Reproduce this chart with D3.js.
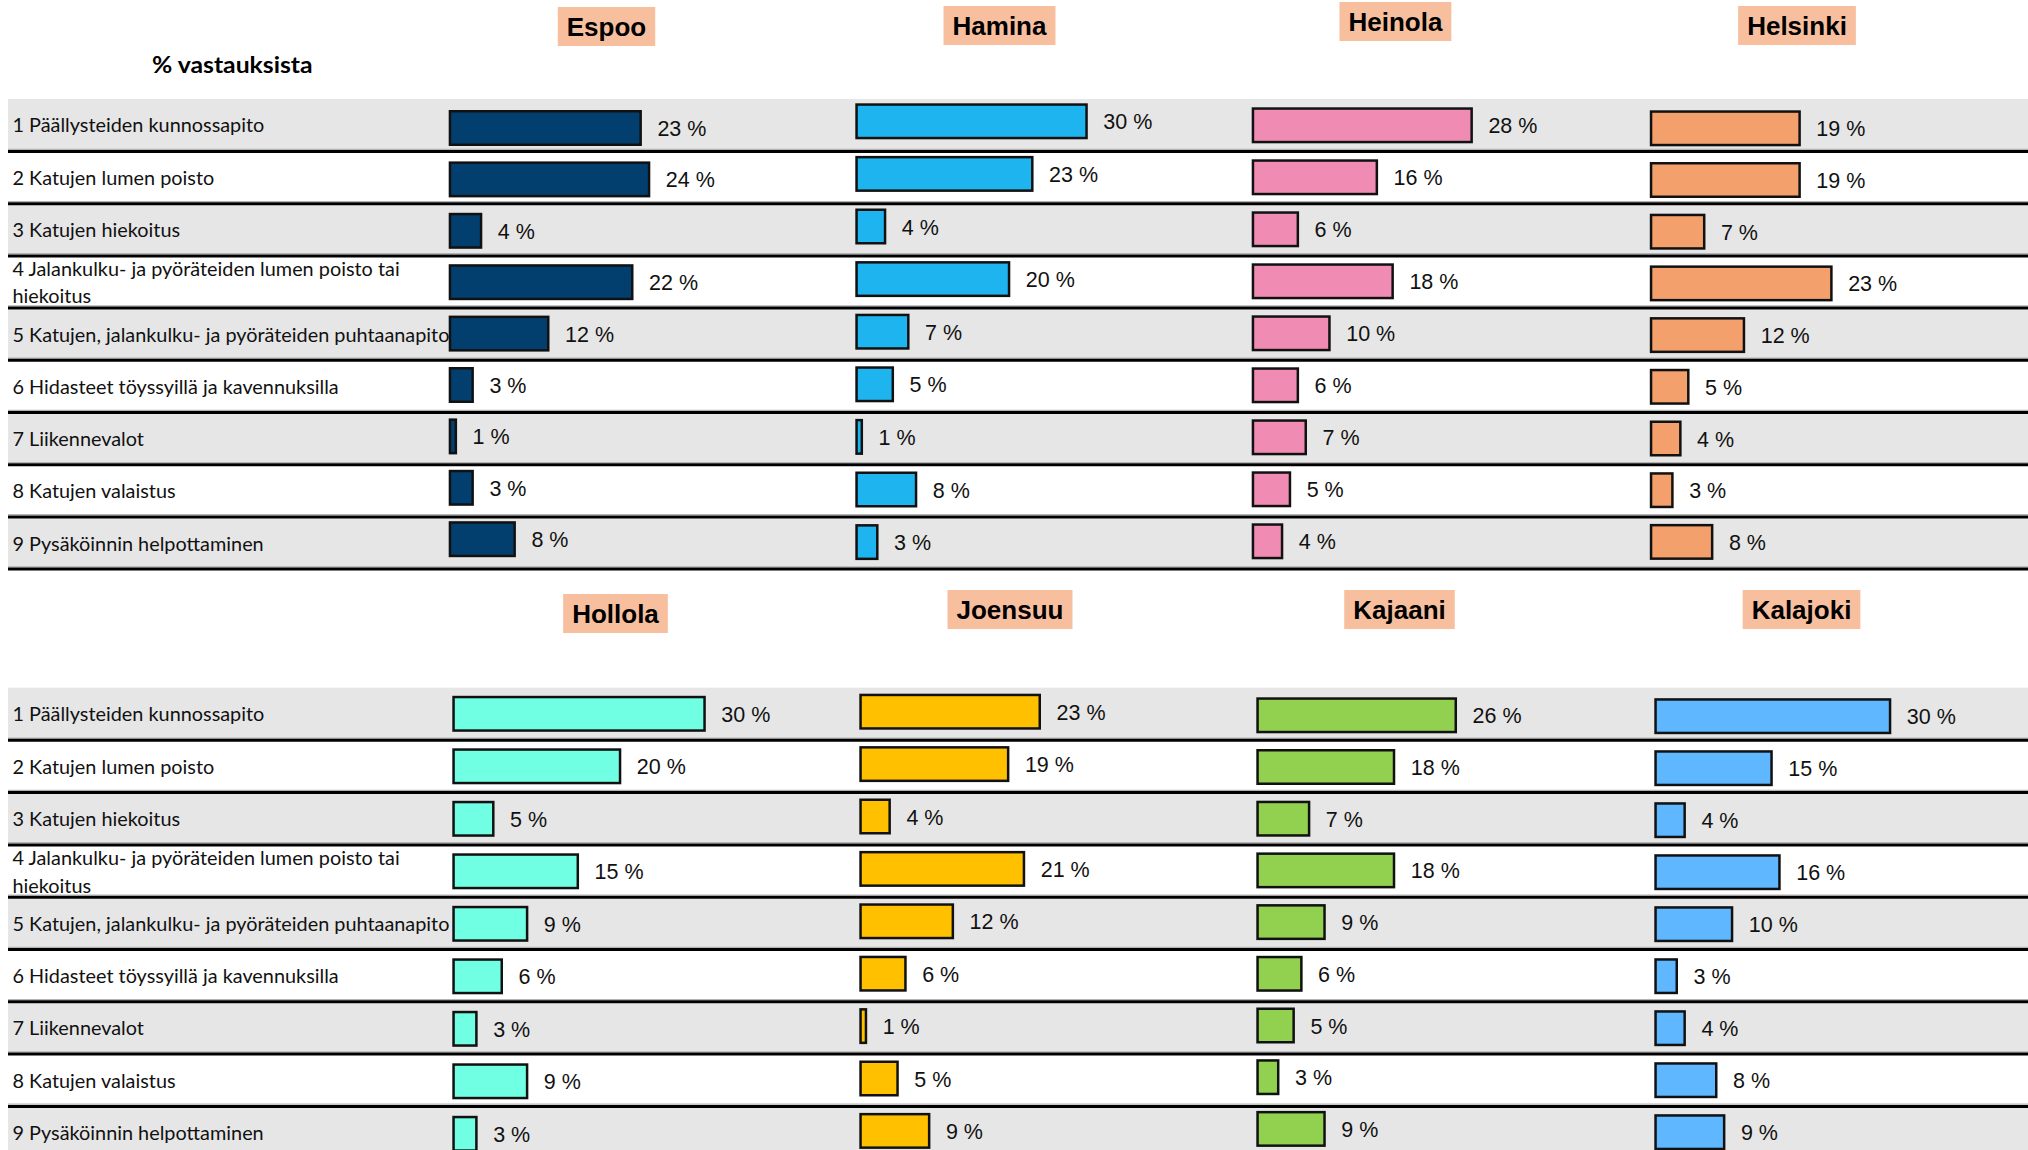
<!DOCTYPE html>
<html>
<head>
<meta charset="utf-8">
<script src="https://cdn.jsdelivr.net/npm/d3@7"></script>
<style>
  html, body { margin: 0; padding: 0; background: #fff; }
  svg { display: block; }
</style>
</head>
<body>
<svg id="chart" width="2028" height="1150"></svg>
<script>
// ---- data -------------------------------------------------------------
const categories = [
  "1 Päällysteiden kunnossapito",
  "2 Katujen lumen poisto",
  "3 Katujen hiekoitus",
  "4 Jalankulku- ja pyöräteiden lumen poisto tai\nhiekoitus",
  "5 Katujen, jalankulku- ja pyöräteiden puhtaanapito",
  "6 Hidasteet töyssyillä ja kavennuksilla",
  "7 Liikennevalot",
  "8 Katujen valaistus",
  "9 Pysäköinnin helpottaminen"
];
const cities = ["Espoo", "Hamina", "Heinola", "Helsinki", "Hollola", "Joensuu", "Kajaani", "Kalajoki"];

const espoo    = [23, 24, 4, 22, 12, 3, 1, 3, 8];
const hamina   = [30, 23, 4, 20, 7, 5, 1, 8, 3];
const heinola  = [28, 16, 6, 18, 10, 6, 7, 5, 4];
const helsinki = [19, 19, 7, 23, 12, 5, 4, 3, 8];
const hollola  = [30, 20, 5, 15, 9, 6, 3, 9, 3];
const joensuu  = [23, 19, 4, 21, 12, 6, 1, 5, 9];
const kajaani  = [26, 18, 7, 18, 9, 6, 5, 3, 9];
const kalajoki = [30, 15, 4, 16, 10, 3, 4, 8, 9];
const valuesByCity = [espoo, hamina, heinola, helsinki, hollola, joensuu, kajaani, kalajoki];

const axisTitle = "% vastauksista";

// ---- styles -----------------------------------------------------------
const barColors = ["#023f6e", "#1db4f0", "#f08bb4", "#f4a06c", "#70ffe2", "#ffc000", "#92d050", "#5fb8ff"];
const bandGray = "#e6e6e6";
const titleFill = "#f8bf9f";
const labelFont = "Lato, 'Open Sans', sans-serif";
const numFont = "'Liberation Sans', Arial, sans-serif";

// ---- layout -----------------------------------------------------------
// two table blocks (rows with alternating bands and black separators)
const sections = [
  { top: 99,    firstLine: 151.5, step: 52.2 },
  { top: 687.7, firstLine: 740.3, step: 52.3 }
];
// one small bar chart per city, laid on top of a block
const panels = [
  { section: 0, x0: 448.7,  w30: 252,   c0: 128,   step: 51.4, tx: 606.5,  ty: 7 },
  { section: 0, x0: 855.3,  w30: 232.5, c0: 121.3, step: 52.6, tx: 999.5,  ty: 6 },
  { section: 0, x0: 1251.7, w30: 237,   c0: 125.3, step: 52.0, tx: 1395.4, ty: 2 },
  { section: 0, x0: 1649.8, w30: 238.5, c0: 128.3, step: 51.7, tx: 1797,   ty: 6 },
  { section: 1, x0: 452.3,  w30: 253.5, c0: 713.8, step: 52.5, tx: 615.5,  ty: 594 },
  { section: 1, x0: 859.3,  w30: 237,   c0: 711.7, step: 52.4, tx: 1010,   ty: 590 },
  { section: 1, x0: 1256.3, w30: 231.6, c0: 715.3, step: 51.7, tx: 1399.5, ty: 590 },
  { section: 1, x0: 1654.3, w30: 237,   c0: 716.2, step: 52.0, tx: 1801.5, ty: 590 }
];

const W = 2028, H = 1150;
const svg = d3.select("#chart");

// horizontal squeeze so the row labels get a narrow, Calibri-like set width
const probe = svg.append("text")
  .attr("font-family", labelFont).attr("font-size", 18.8)
  .text("6 Hidasteet töyssyillä ja kavennuksilla");
const labelSx = 326 / probe.node().getComputedTextLength();
probe.remove();

// ---- table blocks -----------------------------------------------------
sections.forEach(sec => {
  const g = svg.append("g");
  const lineY = d3.scaleLinear().domain([0, 8]).range([sec.firstLine, sec.firstLine + 8 * sec.step]);
  const rows = d3.range(categories.length);
  const rowTop = k => k === 0 ? sec.top : lineY(k - 1) + 1.5;
  const rowBot = k => lineY(k) - 1.5;

  g.selectAll("rect.band").data(rows.filter(k => k % 2 === 0)).join("rect")
    .attr("class", "band")
    .attr("x", 8).attr("width", W - 8)
    .attr("y", k => rowTop(k)).attr("height", k => rowBot(k) - rowTop(k))
    .attr("fill", bandGray);

  g.selectAll("line.shade").data(rows).join("line")
    .attr("class", "shade")
    .attr("x1", 8).attr("x2", W)
    .attr("y1", k => lineY(k) - 2.2).attr("y2", k => lineY(k) - 2.2)
    .attr("stroke", "#b3b3b3").attr("stroke-width", 1.2);

  g.selectAll("line.sep").data(rows).join("line")
    .attr("class", "sep")
    .attr("x1", 8).attr("x2", W)
    .attr("y1", k => lineY(k)).attr("y2", k => lineY(k))
    .attr("stroke", "#000").attr("stroke-width", 3);

  const labels = g.selectAll("text.cat").data(rows).join("text")
    .attr("class", "cat")
    .attr("font-family", labelFont).attr("font-size", 18.8).attr("fill", "#111")
    .attr("transform", k => {
      const c = (rowTop(k) + rowBot(k)) / 2;
      return `translate(12.5,${c}) scale(${labelSx},1)`;
    });
  labels.each(function (k) {
    const parts = categories[k].split("\n");
    const t = d3.select(this);
    if (parts.length === 1) {
      t.append("tspan").attr("x", 0).attr("y", 7.5).text(parts[0]);
    } else {
      t.append("tspan").attr("x", 0).attr("y", -5.8).text(parts[0]);
      t.append("tspan").attr("x", 0).attr("y", 21.5).text(parts[1]);
    }
  });
});

// axis caption above the first block
svg.append("text")
  .attr("font-family", labelFont).attr("font-weight", 700).attr("font-size", 22.5)
  .attr("fill", "#000")
  .text(axisTitle)
  .each(function () {
    const w = this.getComputedTextLength();
    d3.select(this).attr("transform", `translate(152,72.7) scale(${160.7 / w},1)`);
  });

// ---- city panels ------------------------------------------------------
panels.forEach((p, i) => {
  const vals = valuesByCity[i];
  const g = svg.append("g").attr("class", "panel");
  const x = d3.scaleLinear().domain([0, 30]).range([p.x0, p.x0 + p.w30]);
  const y = d3.scaleLinear().domain([0, 8]).range([p.c0, p.c0 + 8 * p.step]);
  const barH = 36, sw = 2.5;

  g.selectAll("rect.bar").data(vals).join("rect")
    .attr("class", "bar")
    .attr("x", x(0) + sw / 2)
    .attr("y", (d, k) => y(k) - barH / 2 + sw / 2)
    .attr("width", d => Math.max(0.5, x(d) - x(0) - sw))
    .attr("height", barH - sw)
    .attr("fill", barColors[i])
    .attr("stroke", "#111").attr("stroke-width", sw);

  g.selectAll("text.val").data(vals).join("text")
    .attr("class", "val")
    .attr("x", d => x(d) + 15.5)
    .attr("y", (d, k) => y(k) + 8)
    .attr("font-family", numFont).attr("font-size", 21.5).attr("fill", "#111")
    .text(d => d + " %");

  // city title on a peach tag
  const title = g.append("text")
    .attr("x", p.tx).attr("y", p.ty + 29)
    .attr("text-anchor", "middle")
    .attr("font-family", numFont).attr("font-weight", 700).attr("font-size", 26)
    .attr("fill", "#000")
    .text(cities[i]);
  const tw = title.node().getComputedTextLength();
  g.insert("rect", "text.val")
    .attr("x", p.tx - tw / 2 - 9).attr("y", p.ty)
    .attr("width", tw + 18).attr("height", 39)
    .attr("fill", titleFill);
});
</script>
</body>
</html>
